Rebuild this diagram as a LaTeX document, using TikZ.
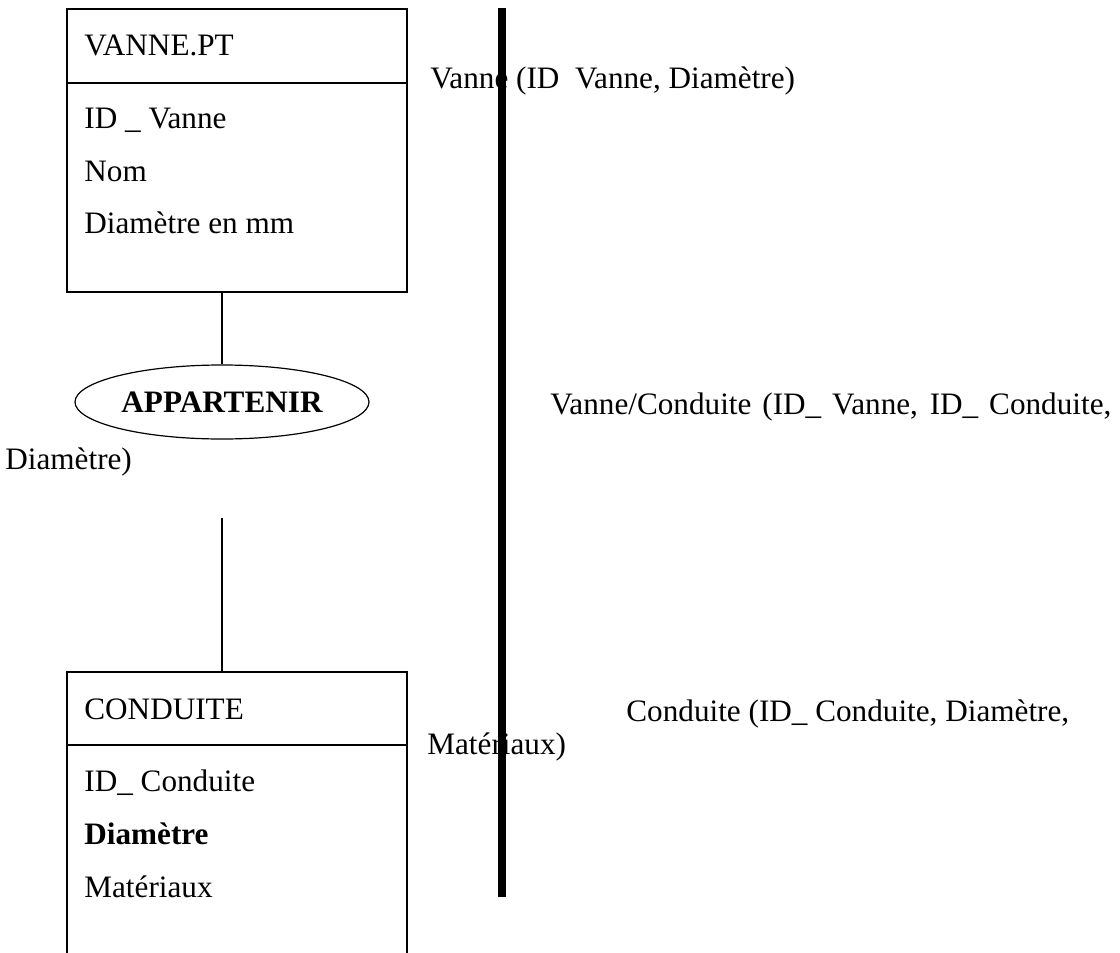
\documentclass[tikz,border=0pt]{standalone}
\usepackage{fontspec}
\setmainfont{Liberation Serif}
\usetikzlibrary{shapes.geometric}
\tikzset{
    every node/.style={inner sep=0pt, font=\fontsize{15.6}{19}\selectfont}
}
\tikzset{
    txt/.style={anchor=base west},
    entite/.style={draw, line width=0.8pt, rectangle, minimum width=170pt},
    assoc/.style={draw, line width=0.6pt, ellipse, minimum width=147pt,
    	minimum height=37pt, font=\fontsize{15.6}{19}\selectfont\bfseries},
    lien/.style={line width=0.6pt},
    sep/.style={line width=3.6pt}
}

\begin{document}
\begin{tikzpicture}[x=0.5pt, y=-0.5pt]
  \clip (0,0) rectangle (1120,953);
  \useasboundingbox (0,0) rectangle (1120,953);

  % entites
  \node (vanne) [entite, minimum height=141.5pt] at (237,150.5) {};
  \node (conduite) [entite, minimum height=160pt] at (237,832) {};
  \draw [line width=0.8pt] (vanne.west |- 0,83) -- (vanne.east |- 0,83);
  \draw [line width=0.8pt] (conduite.west |- 0,745) -- (conduite.east |- 0,745);

  \node (vtitre) [txt] at (84,55) {VANNE.PT};
  \node (vid) [txt] at (84,128) {ID \_ Vanne};
  \node (vnom) [txt] at (84,181) {Nom};
  \node (vdiam) [txt] at (84,233) {Diamètre en mm};

  \node (ctitre) [txt] at (84,719) {CONDUITE};
  \node (cid) [txt] at (84,791) {ID\_ Conduite};
  \node (cdiam) [txt, font=\fontsize{15.6}{19}\selectfont\bfseries] at (84,844) {Diamètre};
  \node (cmat) [txt] at (84,897) {Matériaux};

  % association
  \node (appartenir) [assoc] at (222,402) {APPARTENIR};
  \coordinate (bas) at (222,518);
  \draw [lien] (appartenir.north |- vanne.south) -- (appartenir.north);
  \draw [lien] (bas) -- (bas |- conduite.north);

  % relations
  \node (rvanne) [txt] at (430,88) {Vanne (ID~ Vanne, Diamètre)};
  \node (rvc) [txt] at (550,414) {\makebox[280.5pt][s]{Vanne/Conduite (ID\_ Vanne, ID\_ Conduite,}};
  \node (rvc2) [txt] at (5,469) {Diamètre)};
  \node (rcond) [txt] at (626,721) {Conduite (ID\_ Conduite, Diamètre,};
  \node (rcond2) [txt] at (427,754) {Matériaux)};

  \coordinate (haut) at (502,8);
  \coordinate (fin) at (502,897);
  \draw [sep] (haut) -- (fin);
\end{tikzpicture}
\end{document}
